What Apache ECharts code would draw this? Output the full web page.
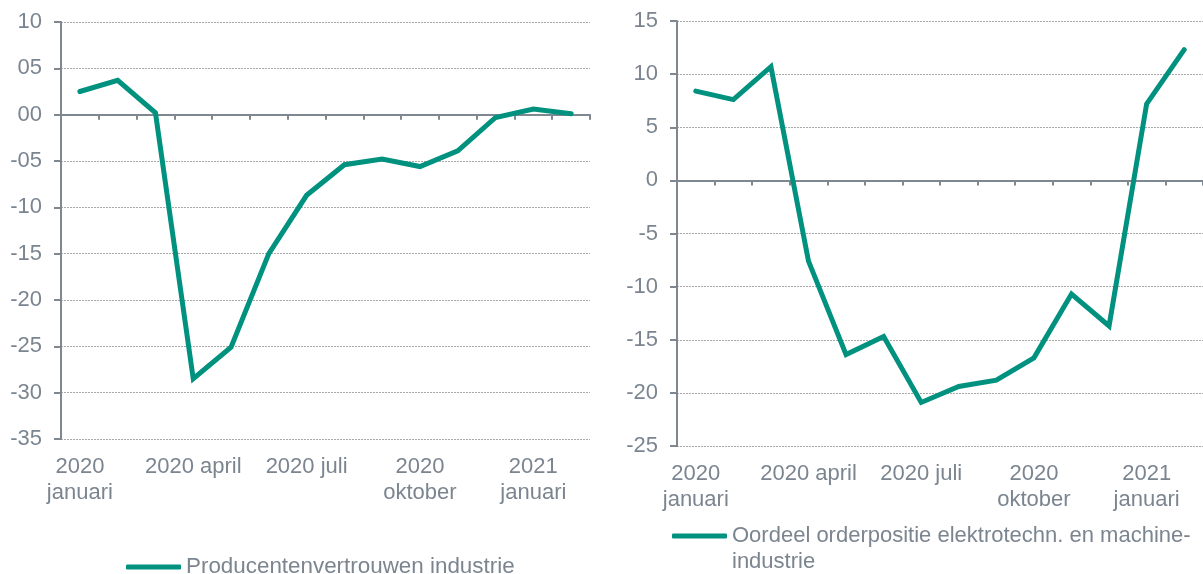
<!DOCTYPE html>
<html>
<head>
<meta charset="utf-8">
<script src="https://cdn.jsdelivr.net/npm/echarts@6/dist/echarts.min.js"></script>
<style>
  html, body { margin: 0; padding: 0; background: #fff; }
  #main { width: 1203px; height: 574px; }
</style>
</head>
<body>
<div id="main"></div>
<script>
// maanden jan 2020 - feb 2021 (labels with \n where the original wraps)
var months = ['2020\njanuari', '2020 februari', '2020 maart', '2020 april', '2020 mei', '2020 juni',
  '2020 juli', '2020 augustus', '2020 september', '2020\noktober', '2020 november', '2020 december',
  '2021\njanuari', '2021 februari'];

var nameLeft = 'Producentenvertrouwen industrie';
var nameRight = 'Oordeel orderpositie elektrotechn. en machine-\nindustrie';

var producentenvertrouwen = [2.5, 3.7, 0.2, -28.5, -25.1, -15.0, -8.7, -5.4, -4.8, -5.6, -3.9, -0.3, 0.6, 0.1];
var orderpositie = [8.4, 7.6, 10.7, -7.6, -16.4, -14.7, -20.9, -19.4, -18.8, -16.7, -10.7, -13.7, 7.2, 12.3];

var green = '#00917f';
var axisGrey = '#7f8790';
var textGrey = '#7b8590';
var font = 'Liberation Sans, Arial, sans-serif';

var chart = echarts.init(document.getElementById('main'));

function labelAxis(grid) {
  return {
    type: 'category', gridIndex: grid, data: months, boundaryGap: true,
    position: 'bottom',
    axisLine: { show: true, onZero: false, lineStyle: { opacity: 0 } },
    axisTick: { show: false },
    axisLabel: { interval: 2, margin: 15, color: textGrey, fontSize: 22, lineHeight: 26, fontFamily: font }
  };
}
function zeroAxis(grid) {
  return {
    type: 'category', gridIndex: grid, data: months, boundaryGap: true,
    position: 'bottom',
    axisLine: { show: true, onZero: true, lineStyle: { color: axisGrey, width: 2 } },
    axisTick: { show: true, interval: 0, length: 5, lineStyle: { color: axisGrey, width: 2 } },
    axisLabel: { show: false }
  };
}
function valAxis(grid, min, max, fmt) {
  return {
    type: 'value', gridIndex: grid, min: min, max: max, interval: 5,
    axisLine: { show: true, lineStyle: { color: axisGrey, width: 2 } },
    axisTick: { show: true, length: 7, lineStyle: { color: axisGrey, width: 2 } },
    axisLabel: { margin: 19, color: textGrey, fontSize: 22, fontFamily: font, formatter: fmt },
    splitLine: { show: true, lineStyle: { color: '#a8a8a8', width: 1, type: [2, 1] } }
  };
}

var option = {
  animation: false,
  grid: [
    { left: 61, top: 22, width: 529, height: 417 },
    { left: 677, top: 21, width: 529, height: 425 }
  ],
  xAxis: [labelAxis(0), zeroAxis(0), labelAxis(1), zeroAxis(1)],
  yAxis: [
    valAxis(0, -35, 10, function (v) {
      var s = String(Math.abs(v)).padStart(2, '0');
      return v < 0 ? '-' + s : s;
    }),
    valAxis(1, -25, 15, function (v) { return String(v); })
  ],
  legend: [
    {
      data: [nameLeft], left: 126, top: 554, padding: 0,
      icon: 'roundRect', itemWidth: 55, itemHeight: 5,
      textStyle: { color: textGrey, fontSize: 22.4, lineHeight: 26, fontFamily: font }
    },
    {
      // leading blank line so the first text line sits level with the icon
      data: [nameRight], left: 672, top: 497, padding: 0,
      icon: 'roundRect', itemWidth: 55, itemHeight: 5,
      formatter: function (name) { return '\n' + name; },
      textStyle: { color: textGrey, fontSize: 22, lineHeight: 26, fontFamily: font }
    }
  ],
  series: [
    {
      name: nameLeft, type: 'line', xAxisIndex: 0, yAxisIndex: 0,
      data: producentenvertrouwen, symbol: 'none', color: green,
      lineStyle: { width: 5, color: green, cap: 'round', join: 'miter' }
    },
    {
      name: nameRight, type: 'line', xAxisIndex: 2, yAxisIndex: 1,
      data: orderpositie, symbol: 'none', color: green,
      lineStyle: { width: 5, color: green, cap: 'round', join: 'miter' }
    }
  ]
};

chart.setOption(option);

window.onresize = function () {
  chart.resize();
};
</script>
</body>
</html>
